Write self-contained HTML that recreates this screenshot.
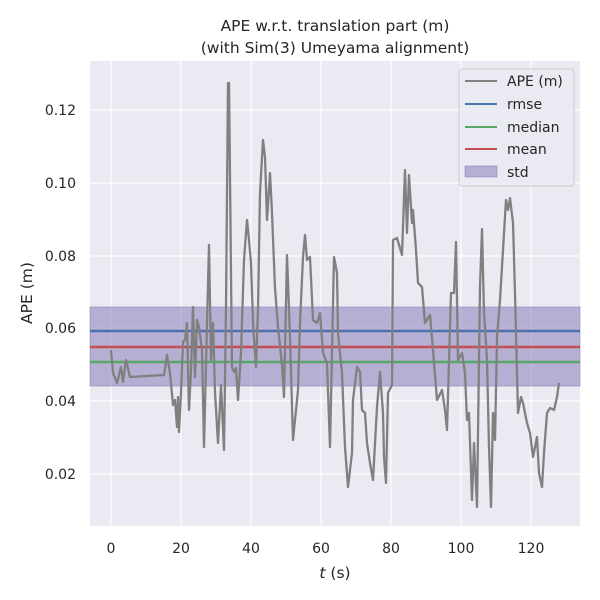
<!DOCTYPE html>
<html><head><meta charset="utf-8"><style>body{margin:0;background:#fff}svg{display:block}text{font-family:"DejaVu Sans","Liberation Sans",sans-serif;fill:#262626}</style></head><body>
<svg width="600" height="600" viewBox="0 0 600 600" xmlns="http://www.w3.org/2000/svg">
<rect x="0" y="0" width="600" height="600" fill="#fff"/>
<rect x="90" y="61" width="490" height="465" fill="#eaeaf2"/>
<g stroke="#fff" stroke-width="1.2">
<line x1="111" y1="61" x2="111" y2="526"/><line x1="181" y1="61" x2="181" y2="526"/><line x1="251" y1="61" x2="251" y2="526"/><line x1="321" y1="61" x2="321" y2="526"/><line x1="391" y1="61" x2="391" y2="526"/><line x1="461" y1="61" x2="461" y2="526"/><line x1="531" y1="61" x2="531" y2="526"/>
<line x1="90" y1="110" x2="580" y2="110"/><line x1="90" y1="183" x2="580" y2="183"/><line x1="90" y1="256" x2="580" y2="256"/><line x1="90" y1="328" x2="580" y2="328"/><line x1="90" y1="401" x2="580" y2="401"/><line x1="90" y1="474" x2="580" y2="474"/>
</g>
<rect x="90" y="307" width="490" height="79" fill="#8172b3" fill-opacity="0.5" stroke="#8172b3" stroke-opacity="0.5"/>
<line x1="90" y1="331" x2="580" y2="331" stroke="#4c72b0" stroke-width="2.5"/>
<line x1="90" y1="362" x2="580" y2="362" stroke="#55a868" stroke-width="2.5"/>
<line x1="90" y1="347" x2="580" y2="347" stroke="#c44e52" stroke-width="2.5"/>
<polyline fill="none" stroke="#808080" stroke-width="2.3" stroke-linejoin="round" points="111,350 113,373 117,383 121,367 123,382 126,360 130,377 164,375 167,355 170,373 173,405 175,400 177,427 178,397 179,432 181,393 183,342 185,340 187,323 189,410 191,370 193,307 195,377 197,320 199,327 202,350 204,447 207,323 209,245 211,360 213,323 215,392 218,443 221,385 224,450 226,307 228,83 229,83 232,367 234,372 236,368 238,400 241,353 244,260 247,220 249,240 251,263 253,323 256,367 258,310 260,193 263,140 265,157 267,220 270,173 272,213 275,288 278,327 282,365 284,397 287,255 290,337 293,440 298,390 300,323 303,257 305,235 307,260 310,257 313,320 317,323 320,313 323,353 327,363 330,447 334,257 337,273 338,333 342,373 345,447 348,487 352,453 353,400 357,367 360,372 362,410 365,413 367,443 370,463 373,480 377,407 380,372 383,413 384,457 386,483 388,393 392,385 393,240 397,238 402,255 405,170 407,233 409,175 412,223 413,210 416,250 418,283 422,287 425,323 430,315 433,350 437,400 442,390 445,410 447,430 451,293 454,293 456,242 458,360 462,353 465,373 467,420 469,413 472,500 474,443 477,507 480,287 482,229 484,313 487,360 489,447 491,507 493,413 495,440 497,337 500,300 503,250 506,200 508,210 510,198 513,223 515,293 518,413 521,397 523,403 527,423 530,433 533,457 537,437 539,473 542,487 544,453 547,413 550,408 554,410 557,397 559,383"/>
<rect x="459" y="69" width="115" height="117" rx="3" fill="#eaeaf2" fill-opacity="0.8" stroke="#ccc"/>
<line x1="465" y1="81" x2="497" y2="81" stroke="#808080" stroke-width="2"/>
<line x1="465" y1="104" x2="497" y2="104" stroke="#4c72b0" stroke-width="2"/>
<line x1="465" y1="127" x2="497" y2="127" stroke="#55a868" stroke-width="2"/>
<line x1="465" y1="149" x2="497" y2="149" stroke="#c44e52" stroke-width="2"/>
<rect x="465" y="166" width="32" height="11" fill="#8172b3" fill-opacity="0.5" stroke="#8172b3" stroke-opacity="0.5"/>
<g font-size="14"><text x="507" y="86">APE (m)</text><text x="507" y="109">rmse</text><text x="507" y="132">median</text><text x="507" y="154">mean</text><text x="507" y="177">std</text></g>
<g font-size="14" text-anchor="middle"><text x="111" y="553">0</text><text x="181" y="553">20</text><text x="251" y="553">40</text><text x="321" y="553">60</text><text x="391" y="553">80</text><text x="461" y="553">100</text><text x="531" y="553">120</text></g>
<g font-size="14" text-anchor="end"><text x="76" y="115">0.12</text><text x="76" y="188">0.10</text><text x="76" y="261">0.08</text><text x="76" y="333">0.06</text><text x="76" y="406">0.04</text><text x="76" y="479">0.02</text></g>
<text x="335" y="578" font-size="15.5" text-anchor="middle"><tspan font-style="italic">t</tspan> (s)</text>
<text transform="translate(32,293) rotate(-90)" font-size="15.5" text-anchor="middle">APE (m)</text>
<text x="335" y="31" font-size="15.5" text-anchor="middle">APE w.r.t. translation part (m)</text>
<text x="335" y="53" font-size="15.5" text-anchor="middle">(with Sim(3) Umeyama alignment)</text>
</svg>
</body></html>
